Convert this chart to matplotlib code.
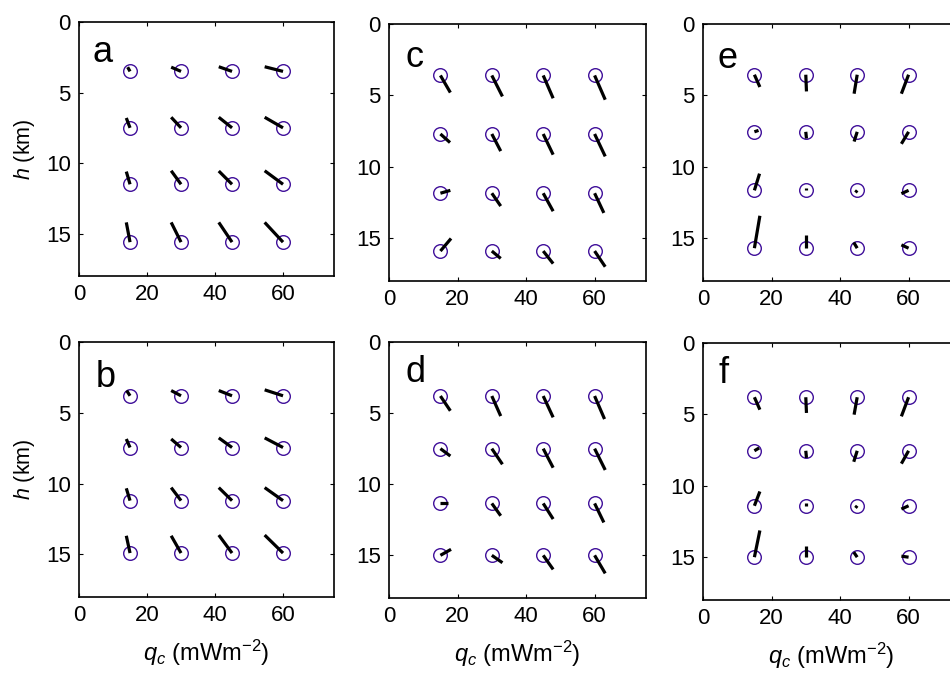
import matplotlib
matplotlib.use("Agg")
import matplotlib.pyplot as plt

plt.rcParams['font.family'] = ['Liberation Sans', 'DejaVu Sans']
plt.rcParams['mathtext.fontset'] = 'custom'
plt.rcParams['mathtext.rm'] = 'Liberation Sans'
plt.rcParams['mathtext.it'] = 'Liberation Sans:italic'

# heat flow grid (columns) shared by all panels
q_c = [15, 30, 45, 60]

# depth of each row of sites, per panel
h_a = [3.5, 7.5, 11.5, 15.6]
h_b = [3.8, 7.45, 11.2, 14.9]
h_c = [3.6, 7.7, 11.85, 15.9]
h_d = [3.8, 7.5, 11.35, 15.0]
h_e = [3.55, 7.55, 11.65, 15.7]
h_f = [3.8, 7.55, 11.4, 15.0]

# stick components (row by row, columns follow q_c)
dx_a = [[-0.7, -2.9, -3.9, -5.4],
        [-1.1, -2.9, -3.9, -5.4],
        [-1.1, -2.9, -3.9, -5.4],
        [-1.1, -2.9, -3.9, -5.4]]
dy_a = [[-0.3, -0.3, -0.33, -0.33],
        [-0.7, -0.75, -0.75, -0.75],
        [-0.9, -0.96, -0.94, -0.96],
        [-1.4, -1.4, -1.4, -1.4]]

dx_b = [[-1.0, -2.9, -3.9, -5.4],
        [-1.1, -2.9, -3.9, -5.4],
        [-1.1, -2.9, -3.9, -5.4],
        [-1.1, -2.9, -3.9, -5.4]]
dy_b = [[-0.37, -0.37, -0.37, -0.42],
        [-0.6, -0.6, -0.68, -0.68],
        [-0.87, -0.92, -0.92, -0.92],
        [-1.22, -1.22, -1.27, -1.27]]

dx_c = [[2.9, 3.1, 2.9, 3.1],
        [2.8, 2.6, 2.9, 3.1],
        [2.9, 2.6, 2.9, 2.7],
        [3.1, 2.6, 2.9, 3.1]]
dy_c = [[1.2, 1.47, 1.6, 1.7],
        [0.6, 1.2, 1.45, 1.57],
        [-0.2, 0.9, 1.26, 1.38],
        [-0.88, 0.52, 0.88, 1.1]]

dx_d = [[2.9, 2.6, 2.9, 2.9],
        [2.9, 3.1, 2.9, 3.1],
        [2.3, 2.6, 2.9, 2.7],
        [3.1, 3.1, 2.9, 3.1]]
dy_d = [[1.04, 1.41, 1.5, 1.62],
        [0.52, 1.1, 1.34, 1.5],
        [0.0, 0.87, 1.1, 1.34],
        [-0.42, 0.52, 0.99, 1.27]]

dx_e = [[1.6, 0.2, -0.9, -2.1],
        [1.2, 0.2, -0.9, -2.1],
        [1.5, 0.0, -0.5, -2.1],
        [1.6, 0.0, -1.0, -2.1]]
dy_e = [[0.86, 1.17, 1.33, 1.33],
        [-0.1, 0.47, 0.68, 0.84],
        [-1.17, -0.2, 0.15, 0.23],
        [-2.27, -0.93, -0.4, -0.23]]

dx_f = [[1.6, 0.2, -0.9, -2.1],
        [1.4, 0.2, -1.0, -2.1],
        [1.6, 0.0, -0.5, -2.1],
        [1.6, 0.0, -1.0, -2.1]]
dy_f = [[0.87, 1.1, 1.22, 1.34],
        [-0.2, 0.5, 0.77, 0.9],
        [-1.0, -0.2, 0.15, 0.23],
        [-1.87, -0.77, -0.35, -0.07]]

panels = {
    'a': (h_a, dx_a, dy_a, [0.0832, 0.5923, 0.2684, 0.3752], (4.1, 2.8)),
    'c': (h_c, dx_c, dy_c, [0.4095, 0.5849, 0.2705, 0.3796], (4.7, 3.0)),
    'e': (h_e, dx_e, dy_e, [0.7400, 0.5849, 0.2705, 0.3796], (4.1, 3.1)),
    'b': (h_b, dx_b, dy_b, [0.0832, 0.1182, 0.2684, 0.3767], (5.0, 3.2)),
    'd': (h_d, dx_d, dy_d, [0.4095, 0.1167, 0.2705, 0.3782], (4.7, 2.8)),
    'f': (h_f, dx_f, dy_f, [0.7400, 0.1137, 0.2705, 0.3797], (4.4, 2.8)),
}

fig = plt.figure(figsize=(9.5, 6.77), dpi=100)

for name, (h, dx, dy, rect, lab) in panels.items():
    ax = fig.add_axes(rect)
    for i, y in enumerate(h):
        for j, x in enumerate(q_c):
            ax.plot(x, y, 'o', ms=9.8, mfc='none', mec='#40109a', mew=1.0, zorder=2)
            ax.plot([x, x + dx[i][j]], [y, y + dy[i][j]], color='k', lw=2.3,
                    solid_capstyle='butt', zorder=3)
    ax.set_xlim(0, 75)
    ax.set_ylim(18, 0)
    ax.set_xticks([0, 20, 40, 60])
    ax.set_yticks([0, 5, 10, 15])
    ax.tick_params(direction='in', length=3, width=0.8, top=True, right=True,
                   labelsize=16, pad=6)
    for s in ax.spines.values():
        s.set_linewidth(1.2)
    ax.text(lab[0], lab[1], name, fontsize=26, ha='left', va='baseline')
    if name in ('a', 'b'):
        ax.set_ylabel(r'$h$ (km)', fontsize=15.5, labelpad=6)
    if name in ('b', 'd', 'f'):
        ax.set_xlabel(r'$q_c$ (mWm$^{\mathrm{-2}}$)', fontsize=17, labelpad=8)

fig.savefig("out.png", dpi=100)
